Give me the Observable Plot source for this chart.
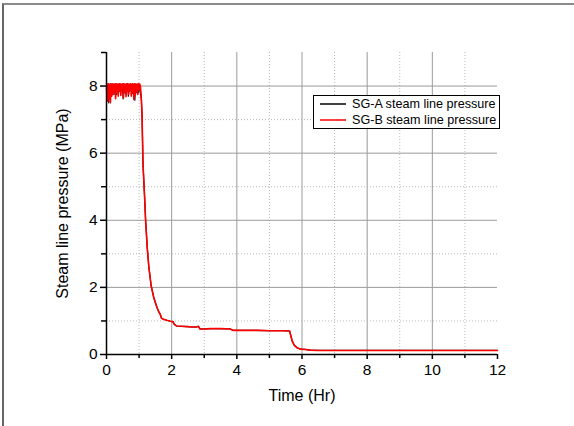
<!DOCTYPE html>
<html>
<head>
<meta charset="utf-8">
<script src="https://cdn.jsdelivr.net/npm/d3@7"></script>
<script src="https://cdn.jsdelivr.net/npm/@observablehq/plot@0.6"></script>
<style>
  html, body { margin: 0; padding: 0; background: #fff; }
  #wrap { position: relative; width: 574px; height: 426px; overflow: hidden; font-family: "Liberation Sans", Arial, sans-serif; }
  #frame { position: absolute; left: 2px; top: 3px; width: 640px; height: 500px; border-top: 2px solid #8a8a8a; border-left: 2px solid #666; }
  #chart { position: absolute; left: 0; top: 0; }
  #chart svg [aria-label$="tick label"] { font-size: 15.5px; }
  #legend { position: absolute; left: 313px; top: 95px; width: 185px; height: 32px; border: 1px solid #000; background: #fff; font-size: 12.6px; color: #000; }
  .row { position: absolute; left: 0; height: 16px; line-height: 16px; white-space: nowrap; }
  .row svg { position: absolute; left: 6px; top: 7px; }
  .row span { position: absolute; left: 38px; top: 0; }
</style>
</head>
<body>
<div id="wrap">
  <div id="frame"></div>
  <div id="chart"></div>
  <div id="legend"></div>
</div>
<script>
// Series names
const seriesNames = ["SG-A steam line pressure", "SG-B steam line pressure"];
const seriesColors = ["#000000", "#ff0000"];

// SG-B noisy early period (time in Hr, pressure in MPa)
const tBNoise = [0,0.02,0.04,0.06,0.08,0.10,0.12,0.14,0.16,0.18,0.20,0.22,0.24,0.26,0.28,0.30,0.32,0.34,0.36,0.38,0.40,0.42,0.44,0.46,0.48,0.50,0.52,0.54,0.56,0.58,0.60,0.62,0.64,0.66,0.68,0.70,0.72,0.74,0.76,0.78,0.80,0.82,0.84,0.86,0.88,0.90,0.92,0.94,0.96,0.98,1.00,1.02,1.04];
const pBNoise = [7.9,8.06,7.55,8.07,7.6,8.05,7.5,8.06,7.7,8.07,7.75,8.05,7.85,8.07,7.62,8.06,7.8,8.05,7.7,8.07,7.88,8.06,7.72,8.05,7.9,8.07,7.65,8.06,7.8,8.05,7.68,8.07,7.85,8.06,7.75,8.05,7.9,8.07,7.7,8.06,7.82,8.05,7.6,8.07,7.72,8.06,7.85,8.05,7.75,8.07,7.9,8.06,8.0];

// SG-A noisy early period (mostly hidden behind SG-B)
const tANoise = [0.01,0.03,0.05,0.07,0.09,0.11,0.13,0.15,0.17,0.19,0.21,0.23,0.25,0.27,0.29,0.31,0.33,0.35,0.37,0.39,0.41,0.43,0.45,0.47,0.49,0.51,0.53,0.55,0.57,0.59,0.61,0.63,0.65,0.67,0.69,0.71,0.73,0.75,0.77,0.79,0.81,0.83,0.85,0.87,0.89,0.91,0.93,0.95,0.97,0.99,1.01,1.03];
const pANoise = [8.05,7.6,8.06,7.5,8.05,7.8,8.07,7.7,8.05,7.9,8.06,7.75,8.05,7.85,8.07,7.75,8.06,7.9,8.05,7.85,8.07,7.8,8.05,7.88,8.06,7.62,8.07,7.92,8.05,7.78,8.06,7.88,8.07,7.7,8.05,7.85,8.06,7.92,8.05,7.78,8.07,7.86,8.05,7.58,8.06,7.8,8.05,7.9,8.07,7.8,8.05,7.95];

// Common depressurisation after ~1.05 Hr (both steam generators overlap)
const tDrop = [1.07,1.09,1.12,1.17,1.20,1.25,1.30,1.37,1.45,1.55,1.60,1.64,1.69,1.75,1.85,1.96,2.04,2.08,2.15,2.30,2.50,2.60,2.75,2.82,2.87,3.00,3.20,3.50,3.80,3.88,4.20,4.60,5.00,5.40,5.62,5.66,5.70,5.76,5.85,5.95,6.10,6.25,6.50,8.00,10.00,12.00];
const pDrop = [7.6,7.17,5.68,4.68,4.0,3.19,2.6,2.05,1.7,1.4,1.28,1.22,1.08,1.05,1.02,0.99,0.98,0.9,0.85,0.84,0.83,0.82,0.82,0.84,0.76,0.76,0.77,0.77,0.76,0.72,0.72,0.72,0.71,0.71,0.7,0.55,0.4,0.28,0.2,0.16,0.15,0.13,0.12,0.12,0.12,0.12];

// Axis ticks
const xMajorTicks = [0,2,4,6,8,10,12];
const xMinorTicks = [1,3,5,7,9,11];
const yMajorTicks = [0,2,4,6,8];
const yMinorTicks = [1,3,5,7,9];
const xLabel = "Time (Hr)";
const yLabel = "Steam line pressure (MPa)";

const toRows = (ts, ps) => ts.map((t, i) => ({t, p: ps[i]}));
const dataA = toRows(tANoise.concat(tDrop), pANoise.concat(pDrop));
const dataB = toRows(tBNoise.concat(tDrop), pBNoise.concat(pDrop));

const gridSolid = {stroke: "#9a9a9a", strokeOpacity: 1, strokeWidth: 1};
const gridDot = {stroke: "#b8b8b8", strokeOpacity: 1, strokeWidth: 1, strokeDasharray: "1,2"};

const chart = Plot.plot({
  width: 574,
  height: 426,
  marginLeft: 106,
  marginRight: 77,
  marginTop: 52,
  marginBottom: 72,
  style: {fontFamily: "'Liberation Sans', Arial, sans-serif", fontSize: "14px", background: "transparent", color: "#000"},
  x: {domain: [0, 12]},
  y: {domain: [0, 9]},
  marks: [
    Plot.gridX(xMajorTicks.filter(d => d > 0 && d < 12), gridSolid),
    Plot.gridX(xMinorTicks, gridDot),
    Plot.gridY(yMajorTicks.filter(d => d > 0), gridSolid),
    Plot.gridY(yMinorTicks.filter(d => d < 9), gridDot),
    Plot.line(dataA, {x: "t", y: "p", stroke: seriesColors[0], strokeWidth: 1.2}),
    Plot.line(dataB, {x: "t", y: "p", stroke: seriesColors[1], strokeWidth: 1.6}),
    Plot.ruleX([0], {stroke: "#000", strokeWidth: 1.5}),
    Plot.ruleY([0], {stroke: "#000", strokeWidth: 1.5}),
    Plot.axisX(xMajorTicks, {tickSize: 5, tickPadding: 4, fontSize: 15, label: null, strokeWidth: 1.5}),
    Plot.axisX(xMinorTicks, {tickSize: 4, tickFormat: () => "", label: null, strokeWidth: 1.5}),
    Plot.axisY(yMajorTicks, {tickSize: 6, tickPadding: 3, fontSize: 15, label: null, strokeWidth: 1.5}),
    Plot.axisY(yMinorTicks, {tickSize: 5, tickFormat: () => "", label: null, strokeWidth: 1.5}),
    Plot.text([xLabel], {frameAnchor: "bottom", dy: 46, fontSize: 16, fill: "#000"}),
    Plot.text([yLabel], {frameAnchor: "left", dx: -44, rotate: -90, textAnchor: "middle", fontSize: 16, fill: "#000"})
  ]
});
document.getElementById("chart").appendChild(chart);

// Legend
const legend = document.getElementById("legend");
seriesNames.forEach((name, i) => {
  const row = document.createElement("div");
  row.className = "row";
  row.style.top = (i * 16) + "px";
  row.innerHTML = `<svg width="26" height="2"><line x1="0" y1="1" x2="26" y2="1" stroke="${seriesColors[i]}" stroke-width="1.5"/></svg><span>${name}</span>`;
  legend.appendChild(row);
});
</script>
</body>
</html>
